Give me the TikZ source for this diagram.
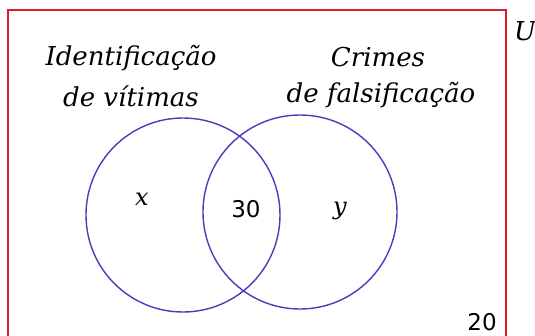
\documentclass[tikz,border=0pt]{standalone}
\usepackage{fontspec}
\newfontfamily\numfont{DejaVu Sans}
\newfontfamily\lblfont{DejaVu Serif}
\definecolor{boxred}{RGB}{220,30,40}
\definecolor{setblue}{RGB}{70,60,190}
\begin{document}
\begin{tikzpicture}[x=1pt,y=-1pt,
  setcircle/.style={draw=setblue, line width=1.4pt},
  frame/.style={draw=boxred, line width=2pt},
  lbl/.style={font=\lblfont\itshape\fontsize{26}{30}\selectfont, align=center, inner sep=0pt},
  num/.style={font=\numfont\fontsize{23}{27}\selectfont, inner sep=0pt},
  var/.style={font=\lblfont\itshape\fontsize{24}{28}\selectfont, inner sep=0pt}]
\useasboundingbox (0,0) rectangle (535,335);
\coordinate (f1) at (8,340);
\coordinate (f2) at (8,10);
\coordinate (f3) at (506,10);
\coordinate (f4) at (506,340);
\draw[frame] (f1) -- (f2) -- (f3) -- (f4);
\draw[setcircle] (183,215) circle[radius=97];
\draw[setcircle] (300,212) circle[radius=97];
\node[lbl] (a1) at (131,58) {Identificação};
\node[lbl] (a2) at (131,96) {de vítimas};
\node[lbl] (b1) at (378,57) {Crimes};
\node[lbl] (b2) at (381,95) {de falsificação};
\node[lbl] (u) at (525,31) {U};
\node[var] (x) at (142,199) {x};
\node[var] (y) at (340,211) {y};
\node[num] (n30) at (246,209) {30};
\node[num] (n20) at (482,322) {20};
\end{tikzpicture}
\end{document}
